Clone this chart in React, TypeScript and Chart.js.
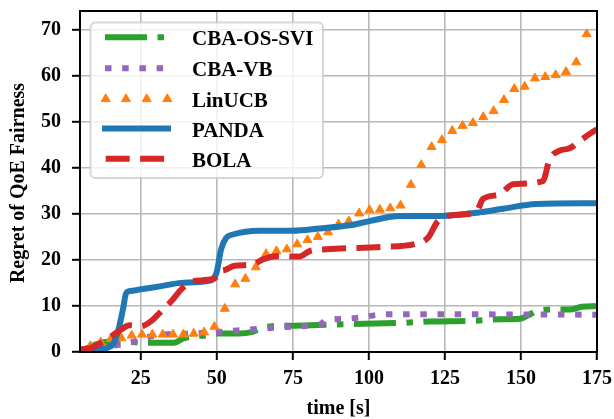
import React, { useEffect, useRef } from "react";
import { Chart, registerables } from "chart.js";

Chart.register(...registerables);

// ---- data ----
const xTicks = [25, 50, 75, 100, 125, 150, 175];
const yTicks = [0, 10, 20, 30, 40, 50, 60, 70];

const cbaOsSviTime = [5, 8, 11, 14, 20, 27, 36, 38.8, 42.1, 46.5, 50.3, 57.5, 61.3, 64, 68, 75, 86, 95, 110, 120, 135, 143, 149.6, 152.5, 155.1, 160.5, 166, 170, 175];
const cbaOsSviValues = [0.3, 1.0, 1.8, 2.2, 2.2, 2.0, 2.0, 2.9, 3.4, 3.6, 4.0, 4.0, 4.3, 5.0, 5.6, 5.7, 5.9, 6.1, 6.3, 6.6, 6.8, 7.1, 7.2, 8.0, 8.9, 9.2, 9.2, 9.8, 10.0];

const cbaVbTime = [5, 10, 13, 17.4, 22.5, 26, 30, 35, 42, 51.4, 57.5, 63.5, 69, 75, 80.5, 84, 86, 92, 97, 103.5, 109, 175];
const cbaVbValues = [0.4, 0.8, 1.2, 1.5, 2.2, 3.0, 3.6, 3.9, 4.0, 4.4, 4.7, 5.0, 5.3, 5.5, 5.7, 6.0, 6.9, 7.2, 7.5, 8.1, 8.2, 8.1];

const linucbTime = [5, 8.4, 11.8, 15.2, 18.6, 22, 25.4, 28.8, 32.2, 35.6, 39, 42.4, 45.8, 49.2, 52.6, 56, 59.4, 62.8, 66.2, 69.6, 73, 76.4, 79.8, 83.2, 86.6, 90, 93.4, 96.8, 100.2, 103.6, 107, 110.4, 113.8, 117.2, 120.6, 124, 127.4, 130.8, 134.2, 137.6, 141, 144.4, 147.8, 151.2, 154.6, 158, 161.4, 164.8, 168.2, 171.6];
const linucbValues = [0.5, 1.3, 2.1, 2.9, 3.0, 3.6, 3.8, 3.8, 3.8, 3.8, 3.8, 4.0, 4.3, 5.5, 9.4, 14.7, 15.9, 18.4, 21.3, 21.9, 22.3, 23.4, 24.3, 25.0, 26.0, 27.7, 28.4, 30.1, 30.8, 30.9, 31.2, 31.8, 36.3, 40.6, 44.5, 46.0, 48.0, 49.1, 49.7, 51.0, 52.3, 54.7, 57.1, 57.6, 59.4, 59.7, 60.1, 60.8, 62.9, 69.0];

const pandaTime = [5, 9.8, 15.3, 17.4, 19.1, 20.2, 21.3, 25.1, 31.7, 38.3, 47, 49.8, 51.4, 53.1, 55.3, 64, 75, 83.8, 93.7, 100.2, 110.1, 121.1, 136.4, 144.1, 155.1, 175];
const pandaValues = [0, 0.5, 1.3, 4.2, 9.2, 12.8, 13.2, 13.6, 14.3, 15.0, 15.4, 17.0, 22.3, 24.8, 25.5, 26.3, 26.3, 26.8, 27.5, 28.4, 29.5, 29.5, 30.3, 31.1, 32.1, 32.3];

const bolaTime = [5, 8.7, 12, 15.3, 18.6, 21.3, 25.1, 28.4, 31.2, 35, 38.3, 42.1, 49.2, 50.3, 53.1, 55.8, 61.8, 65.1, 69.5, 77.2, 80.5, 86, 104.6, 115.6, 119.4, 122.7, 127.6, 135.3, 137.5, 143, 147.4, 157.2, 159.4, 162.7, 166, 169.3, 174.2, 175];
const bolaValues = [0.5, 0.9, 2.0, 3.4, 4.9, 5.8, 5.6, 6.7, 8.5, 11.0, 13.6, 15.4, 15.9, 17.2, 17.9, 18.7, 19.0, 20.1, 20.8, 20.7, 21.9, 22.3, 22.8, 23.5, 24.8, 28.4, 29.7, 30.4, 33.2, 34.2, 36.4, 37.1, 41.8, 43.7, 44.2, 45.8, 48.0, 48.3];

const seriesNames = ["CBA-OS-SVI", "CBA-VB", "LinUCB", "PANDA", "BOLA"];
const seriesColors = ["#2ca02c", "#9467bd", "#ff7f0e", "#1f77b4", "#d62728"];

const xTitle = "time [s]";
const yTitle = "Regret of QoE Fairness";

const FONT = '"Liberation Serif", "Times New Roman", Times, serif';

const DASH_DOT = [42, 10.5, 6.5, 10.5];
const DOTTED = [6.5, 10.7];
const DASHED = [24, 10.4];

const pts = (t: number[], v: number[]) => t.map((x, i) => ({ x, y: v[i] }));

export default function App() {
  const ref = useRef<HTMLCanvasElement | null>(null);

  useEffect(() => {
    const canvas = ref.current;
    if (!canvas) return;

    const lineBase = {
      borderWidth: 6,
      pointRadius: 0,
      pointHoverRadius: 0,
      fill: false,
      cubicInterpolationMode: "monotone" as const,
      borderCapStyle: "butt" as const,
      borderJoinStyle: "round" as const,
    };

    const framePlugin = {
      id: "frame",
      afterDatasetsDraw(chart: any) {
        const { ctx, chartArea } = chart;
        ctx.save();
        ctx.strokeStyle = "#000";
        ctx.lineWidth = 2;
        ctx.strokeRect(chartArea.left, chartArea.top, chartArea.right - chartArea.left, chartArea.bottom - chartArea.top);
        ctx.restore();
      },
      afterDraw(chart: any) {
        const { ctx } = chart;
        ctx.save();
        // legend box
        const bx = 90.5, by = 22.5, bw = 232.5, bh = 155.5, r = 5;
        ctx.beginPath();
        ctx.moveTo(bx + r, by);
        ctx.lineTo(bx + bw - r, by);
        ctx.arcTo(bx + bw, by, bx + bw, by + r, r);
        ctx.lineTo(bx + bw, by + bh - r);
        ctx.arcTo(bx + bw, by + bh, bx + bw - r, by + bh, r);
        ctx.lineTo(bx + r, by + bh);
        ctx.arcTo(bx, by + bh, bx, by + bh - r, r);
        ctx.lineTo(bx, by + r);
        ctx.arcTo(bx, by, bx + r, by, r);
        ctx.closePath();
        ctx.fillStyle = "rgba(255,255,255,0.8)";
        ctx.fill();
        ctx.strokeStyle = "rgba(204,204,204,0.8)";
        ctx.lineWidth = 2;
        ctx.stroke();

        const rows = [37.3, 68.3, 99, 128.6, 158.7];
        const dashes: (number[] | null)[] = [DASH_DOT, DOTTED, null, [], DASHED];
        const starts = [105, 105, 0, 102, 105.7];
        rows.forEach((ry, i) => {
          ctx.strokeStyle = seriesColors[i];
          ctx.fillStyle = seriesColors[i];
          if (i === 2) {
            [105.7, 126, 146.7, 167.3].forEach((cx) => {
              const rad = 5.2;
              ctx.beginPath();
              ctx.moveTo(cx, ry - rad);
              ctx.lineTo(cx + rad * Math.sin((2 * Math.PI) / 3), ry - rad * Math.cos((2 * Math.PI) / 3));
              ctx.lineTo(cx + rad * Math.sin((4 * Math.PI) / 3), ry - rad * Math.cos((4 * Math.PI) / 3));
              ctx.closePath();
              ctx.fill();
              ctx.lineWidth = 1;
              ctx.stroke();
            });
          } else {
            ctx.lineWidth = 6;
            ctx.lineCap = "butt";
            ctx.setLineDash(dashes[i] as number[]);
            ctx.beginPath();
            ctx.moveTo(starts[i], ry);
            ctx.lineTo(171, ry);
            ctx.stroke();
            ctx.setLineDash([]);
          }
          ctx.fillStyle = "#000";
          ctx.font = `bold 21px ${FONT}`;
          ctx.textAlign = "left";
          ctx.textBaseline = "alphabetic";
          ctx.fillText(seriesNames[i], 192, ry + 8);
        });

        // axis titles
        ctx.fillStyle = "#000";
        ctx.font = `bold 20px ${FONT}`;
        ctx.textAlign = "center";
        ctx.textBaseline = "alphabetic";
        ctx.fillText(xTitle, 338.5, 414);
        ctx.translate(24, 183);
        ctx.rotate(-Math.PI / 2);
        ctx.fillText(yTitle, 0, 0);
        ctx.restore();
      },
    };

    const tickFont = { family: FONT, size: 20, weight: "bold" as const };

    const chart = new Chart(canvas, {
      type: "line",
      data: {
        datasets: [
          { ...lineBase, label: seriesNames[0], data: pts(cbaOsSviTime, cbaOsSviValues), borderColor: seriesColors[0], borderDash: DASH_DOT, order: 5 },
          { ...lineBase, label: seriesNames[1], data: pts(cbaVbTime, cbaVbValues), borderColor: seriesColors[1], borderDash: DOTTED, order: 4 },
          {
            label: seriesNames[2],
            data: pts(linucbTime, linucbValues),
            showLine: false,
            pointStyle: "triangle",
            pointRadius: 5.2,
            pointHoverRadius: 5.2,
            pointBorderWidth: 1,
            borderWidth: 1,
            backgroundColor: seriesColors[2],
            borderColor: seriesColors[2],
            order: 3,
          },
          { ...lineBase, label: seriesNames[3], data: pts(pandaTime, pandaValues), borderColor: seriesColors[3], order: 2 },
          { ...lineBase, label: seriesNames[4], data: pts(bolaTime, bolaValues), borderColor: seriesColors[4], borderDash: DASHED, order: 1 },
        ],
      },
      options: {
        responsive: false,
        animation: false,
        devicePixelRatio: 1,
        layout: { padding: { left: 0, top: 11, right: 17, bottom: 0 } },
        plugins: { legend: { display: false }, tooltip: { enabled: false } },
        events: [],
        scales: {
          x: {
            type: "linear",
            min: 5,
            max: 175,
            afterBuildTicks: (scale: any) => {
              scale.ticks = xTicks.map((v) => ({ value: v }));
            },
            afterFit: (scale: any) => {
              scale.height = 67;
              scale.paddingLeft = 0;
              scale.paddingRight = 0;
            },
            ticks: { stepSize: 25, includeBounds: false, autoSkip: false, maxRotation: 0, font: tickFont, color: "#000", padding: 7 },
            grid: { color: "#b8b8b8", lineWidth: 1.6, tickColor: "#000", tickWidth: 2, tickLength: 8 },
            border: { display: true, color: "#000", width: 2 },
          },
          y: {
            type: "linear",
            min: 0,
            max: 74,
            afterBuildTicks: (scale: any) => {
              scale.ticks = yTicks.map((v) => ({ value: v }));
            },
            afterFit: (scale: any) => {
              scale.width = 80;
              scale.paddingTop = 0;
              scale.paddingBottom = 0;
            },
            ticks: { stepSize: 10, includeBounds: false, autoSkip: false, font: tickFont, color: "#000", padding: 11 },
            grid: { color: "#b8b8b8", lineWidth: 1.6, tickColor: "#000", tickWidth: 2, tickLength: 8 },
            border: { display: true, color: "#000", width: 2 },
          },
        },
      },
      plugins: [framePlugin],
    } as any);

    return () => chart.destroy();
  }, []);

  return (
    <div style={{ position: "absolute", left: 0, top: 0, width: 614, height: 419, background: "#fff" }}>
      <canvas ref={ref} width={614} height={419} style={{ display: "block", width: 614, height: 419 }} />
    </div>
  );
}
